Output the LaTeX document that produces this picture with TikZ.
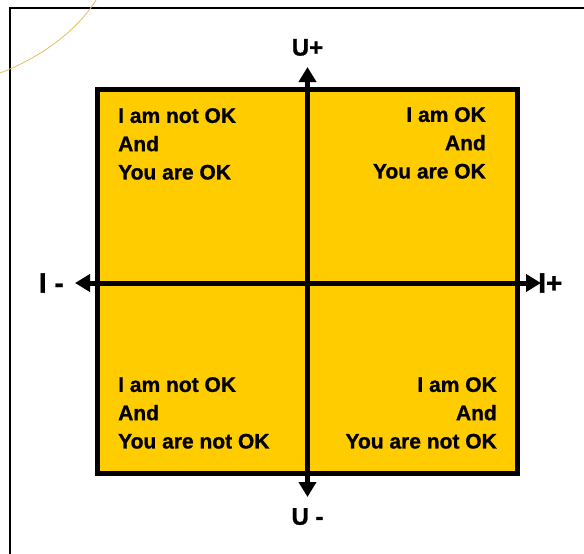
\documentclass[tikz,border=0pt]{standalone}
\usepackage{fontspec}
\setmainfont{Liberation Sans}[BoldFeatures={FakeBold=1}]
\usetikzlibrary{arrows.meta, positioning}
\definecolor{quadyellow}{RGB}{255,204,0}
\definecolor{swoosh}{RGB}{230,188,95}

\begin{document}
\begin{tikzpicture}[
    x=1pt, y=-1pt,
    quadtext/.style={inner sep=0pt, font=\fontsize{21}{28.3}\selectfont\bfseries},
    axislabel/.style={inner sep=0pt, font=\fontsize{24}{28}\selectfont\bfseries},
    axis/.style={{Triangle[length=15pt, width=17pt]}-{Triangle[length=15pt, width=17pt]}, line width=5pt}
]
    \useasboundingbox (0,0) rectangle (584,554);
    % Frame and swoosh
    \draw[line width=2.2pt] (10,554) -- (10,8) -- (584,8);
    \draw[swoosh, line width=0.8pt] (0,73) .. controls (40,58) and (78,30) .. (96,0);
    % Grid
    \draw[fill=quadyellow, line width=5pt] (97,89.5) rectangle (517,473);

    % Nodes
    \coordinate (ttip) at (307.5,67);
    \coordinate (btip) at (307.5,497);
    \coordinate (ltip) at (75,283);
    \coordinate (rtip) at (541,283);
    \node (uplus) [axislabel, above=11pt of ttip] {U+};
    \node (uminus) [axislabel, below=11pt of btip] {U -};
    \node (iminus) [axislabel, font=\fontsize{28}{32}\selectfont\bfseries, left=11pt of ltip] {I -};
    \node (iplus) [axislabel, font=\fontsize{28}{32}\selectfont\bfseries, right=-3pt of rtip] {I+};

    \node (notyes) [quadtext, anchor=north west, align=left] at (118,108) {I am not OK\\And\\You are OK};
    \node (yesyes) [quadtext, anchor=north east, align=right] at (486,107) {I am OK\\And\\You are OK};
    \node (notnot) [quadtext, anchor=north west, align=left] at (118,377) {I am not OK\\And\\You are not OK};
    \node (yesnot) [quadtext, anchor=north east, align=right] at (497,377) {I am OK\\And\\You are not OK};

    % Paths
    \draw [axis] (ltip) -- (rtip);
    \draw [axis] (btip) -- (ttip);
\end{tikzpicture}
\end{document}
